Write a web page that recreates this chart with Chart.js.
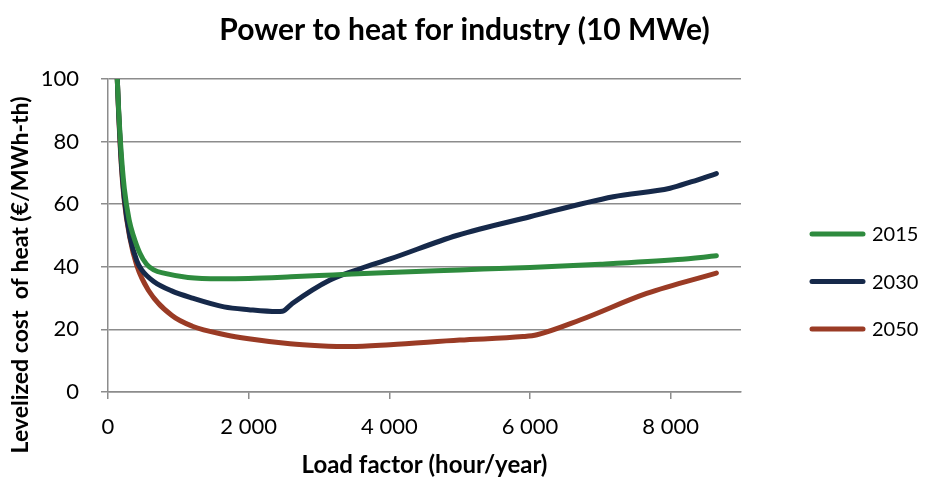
<!DOCTYPE html>
<html>
<head>
<meta charset="utf-8">
<script src="https://cdn.jsdelivr.net/npm/chart.js@4.4.1/dist/chart.umd.min.js"></script>
<style>
  html, body { margin: 0; padding: 0; background: #fff; }
  #wrap { width: 929px; height: 479px; position: relative; }
</style>
</head>
<body>
<div id="wrap"><canvas id="c" width="929" height="479"></canvas></div>
<script>
// ---- data ----
const chartTitle = "Power to heat for industry (10 MWe)";
const xAxisTitle = "Load factor (hour/year)";
const yAxisTitle = "Levelized cost  of heat (€/MWh-th)";
const seriesNames = ["2015", "2030", "2050"];
const xTicks = [0, 2000, 4000, 6000, 8000];
const yTicks = [0, 20, 40, 60, 80, 100];

const hours2015 = [100, 132, 180, 232, 300, 360, 450, 549, 650, 810, 1137, 1600, 2000, 2600, 3200, 4000, 5000, 6000, 7000, 8100, 8650];
const cost2015  = [125, 100, 79, 65, 55, 50, 44.5, 40.8, 39, 37.9, 36.6, 36.2, 36.3, 36.8, 37.4, 38.2, 39, 39.8, 40.8, 42.3, 43.5];

const hours2030 = [100, 132, 180, 232, 313, 408, 479, 650, 905, 1200, 1650, 2000, 2400, 2480, 2620, 3157, 3600, 4010, 4958, 6000, 7185, 7991, 8300, 8650];
const cost2030  = [125, 100, 77, 62, 49.5, 42, 39, 35.3, 32.3, 30, 27.2, 26.3, 25.7, 25.8, 28.3, 35.8, 39.5, 42.5, 50, 56, 62.4, 65.1, 67.2, 69.8];

const hours2050 = [100, 132, 180, 232, 313, 408, 574, 905, 1200, 1664, 2000, 2588, 3000, 3441, 4010, 5000, 5900, 6100, 6711, 7659, 8650];
const cost2050  = [125, 100, 76, 61, 49, 40.5, 32.5, 24.5, 21, 18.3, 17, 15.4, 14.8, 14.5, 15.1, 16.6, 17.7, 18.3, 23, 31.5, 38];

const seriesColors = ["#2e8b3e", "#16294a", "#9a3b25"];

// ---- build ----
function pts(xs, ys) { return xs.map((x, i) => ({ x: x, y: ys[i] })); }
function fmt(v) { return String(v).replace(/\B(?=(\d{3})+(?!\d))/g, " "); }

const allSeries = [pts(hours2015, cost2015), pts(hours2030, cost2030), pts(hours2050, cost2050)];

const FONT = "Lato, 'Open Sans', sans-serif";

const customLegendAndTitle = {
  id: "customLegendAndTitle",
  afterDraw(chart) {
    const ctx = chart.ctx;
    ctx.save();
    // y-axis title
    ctx.translate(21, 275);
    ctx.rotate(-Math.PI / 2);
    ctx.font = "bold 23px " + FONT;
    ctx.fillStyle = "#000";
    ctx.textAlign = "center";
    ctx.textBaseline = "middle";
    ctx.fillText(yAxisTitle, 0, 0);
    ctx.restore();

    // legend
    ctx.save();
    chart.data.datasets.forEach((ds, i) => {
      const y = 234 + i * 47.5;
      ctx.strokeStyle = ds.borderColor;
      ctx.lineWidth = 5;
      ctx.lineCap = "round";
      ctx.beginPath();
      ctx.moveTo(812, y);
      ctx.lineTo(863, y);
      ctx.stroke();
      ctx.fillStyle = "#000";
      ctx.font = "20px " + FONT;
      ctx.textAlign = "left";
      ctx.textBaseline = "middle";
      ctx.fillText(ds.label, 872, y + 1);
    });
    ctx.restore();
  }
};

new Chart(document.getElementById("c"), {
  type: "scatter",
  data: {
    datasets: allSeries.map((d, i) => ({
      label: seriesNames[i],
      data: d,
      showLine: true,
      borderColor: seriesColors[i],
      backgroundColor: seriesColors[i],
      borderWidth: 5,
      borderCapStyle: "round",
      borderJoinStyle: "round",
      pointRadius: 0,
      pointHoverRadius: 0,
      cubicInterpolationMode: "monotone",
      fill: false
    }))
  },
  options: {
    responsive: false,
    animation: false,
    events: [],
    layout: { padding: { left: 0, right: 0, top: 0, bottom: 0 } },
    plugins: {
      legend: { display: false },
      tooltip: { enabled: false },
      title: {
        display: true,
        text: chartTitle,
        color: "#000",
        font: { family: FONT, size: 30, weight: "bold", lineHeight: 1.2 },
        padding: { top: 12, bottom: 31 }
      }
    },
    scales: {
      x: {
        type: "linear",
        min: 0,
        max: 9000,
        afterBuildTicks(scale) { scale.ticks = xTicks.map(v => ({ value: v })); },
        afterFit(scale) { scale.height = 87; },
        ticks: {
          color: "#000",
          font: { family: FONT, size: 22 },
          padding: 15,
          maxRotation: 0,
          callback: (v) => fmt(v)
        },
        grid: {
          display: true,
          drawOnChartArea: false,
          drawTicks: true,
          tickLength: 7,
          color: "#8c8c8c",
          lineWidth: 1.5
        },
        border: { display: true, color: "#8c8c8c", width: 1.5 },
        title: {
          display: true,
          text: xAxisTitle,
          color: "#000",
          font: { family: FONT, size: 24, weight: "bold", lineHeight: 1.2 },
          padding: { top: 0, bottom: -1 }
        }
      },
      y: {
        type: "linear",
        min: 0,
        max: 100,
        afterBuildTicks(scale) { scale.ticks = yTicks.map(v => ({ value: v })); },
        afterFit(scale) { scale.width = 108; },
        ticks: {
          color: "#000",
          font: { family: FONT, size: 22 },
          padding: 22
        },
        grid: {
          display: true,
          drawTicks: true,
          tickLength: 7,
          color: "#8c8c8c",
          lineWidth: 1.5
        },
        border: { display: true, color: "#8c8c8c", width: 1.5 }
      },
      legendSpace: {
        type: "linear",
        position: "right",
        display: true,
        afterFit(scale) { scale.width = 188; },
        ticks: { display: false },
        grid: { display: false, drawTicks: false },
        border: { display: false }
      }
    }
  },
  plugins: [customLegendAndTitle]
});
</script>
</body>
</html>
